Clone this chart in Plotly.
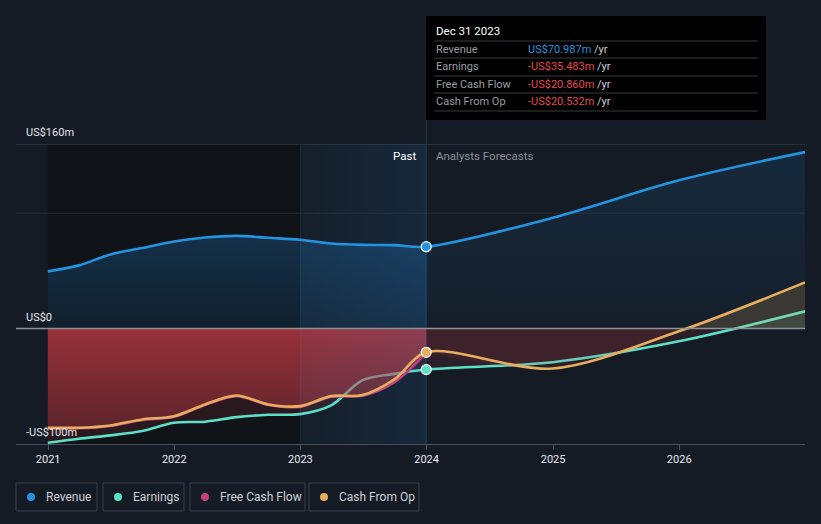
import plotly.graph_objects as go

# ---------------- data ----------------
past_dates = ["2020-12-31", "2021-03-31", "2021-06-30", "2021-09-30", "2021-12-31",
              "2022-03-31", "2022-06-30", "2022-09-30", "2022-12-31", "2023-03-31",
              "2023-06-30", "2023-09-30", "2023-12-31"]
revenue_past = [49.6, 54.8, 64.3, 69.8, 75.5, 79.0, 80.4, 78.7, 77.0, 73.8, 72.6, 72.4, 70.987]
earnings_past = [-98.9, -95.4, -92.5, -88.8, -81.6, -80.7, -76.7, -74.7, -74.1, -66.5, -44.7, -39.2, -35.483]
cfo_past = [-85.9, -85.9, -83.9, -78.7, -75.9, -65.7, -58.0, -65.7, -67.2, -58.5, -57.6, -44.0, -20.532]
fcf_past = [-86.4, -86.4, -84.4, -79.2, -76.4, -66.2, -58.5, -66.2, -67.8, -59.0, -58.2, -46.5, -20.860]

fc_dates = ["2023-12-31", "2024-12-31", "2025-12-31", "2026-12-31"]
revenue_fc = [70.987, 96.0, 128.5, 153.0]
earnings_fc = [-35.483, -29.1, -11.0, 15.0]
cfo_fc = [-20.532, -34.6, -2.3, 40.0]

year_ticks = ["2021-01-01", "2022-01-01", "2023-01-01", "2024-01-01", "2025-01-01", "2026-01-01"]
year_labels = ["2021", "2022", "2023", "2024", "2025", "2026"]
y_labels = {160: "US$160m", 0: "US$0", -100: "-US$100m"}

tooltip_date = "Dec 31 2023"
tooltip_rows = [("Revenue", "US$70.987m", "#2394df"),
                ("Earnings", "-US$35.483m", "#e5484d"),
                ("Free Cash Flow", "-US$20.860m", "#e5484d"),
                ("Cash From Op", "-US$20.532m", "#e5484d")]
legend_items = [("Revenue", "#2394df"), ("Earnings", "#5ce0c6"),
                ("Free Cash Flow", "#c2407e"), ("Cash From Op", "#e8ae5f")]

# ---------------- styling ----------------
W, H = 821, 524
L, R, T, B = 16, 16, 144, 80
BG = "#151b24"
C_REV, C_EARN, C_FCF, C_CFO = "#2394df", "#5ce0c6", "#c2407e", "#e8ae5f"
FONT = "Roboto"


def fx(p):
    return (p - L) / (W - L - R)


def fy(p):
    return (H - B - p) / (H - T - B)


fig = go.Figure()
SM = 0.9

# revenue fills
fig.add_trace(go.Scatter(x=past_dates, y=revenue_past, mode="none", fill="tozeroy",
                         line=dict(shape="spline", smoothing=SM),
                         fillgradient=dict(type="vertical", start=0, stop=80,
                                           colorscale=[[0, "rgba(33,150,243,0.10)"], [1, "rgba(33,150,243,0.22)"]]),
                         hoverinfo="skip"))
fig.add_trace(go.Scatter(x=fc_dates, y=revenue_fc, mode="none", fill="tozeroy",
                         line=dict(shape="spline", smoothing=SM),
                         fillgradient=dict(type="vertical", start=0, stop=150,
                                           colorscale=[[0, "rgba(33,150,243,0.03)"], [1, "rgba(33,150,243,0.12)"]]),
                         hoverinfo="skip"))
# earnings fills
fig.add_trace(go.Scatter(x=past_dates, y=earnings_past, mode="none", fill="tozeroy",
                         line=dict(shape="spline", smoothing=SM),
                         fillcolor="rgba(200,60,70,0.14)", hoverinfo="skip"))
fig.add_trace(go.Scatter(x=fc_dates, y=earnings_fc, mode="none", fill="tozeroy",
                         line=dict(shape="spline", smoothing=SM),
                         fillgradient=dict(type="vertical", start=-40, stop=40,
                                           colorscale=[[0, "rgba(200,60,70,0.12)"], [0.5, "rgba(200,60,70,0.12)"],
                                                       [0.5, "rgba(92,224,198,0.10)"], [1, "rgba(92,224,198,0.10)"]]),
                         hoverinfo="skip"))
# earnings line
fig.add_trace(go.Scatter(x=past_dates + fc_dates[1:], y=earnings_past + earnings_fc[1:], mode="lines",
                         line=dict(color=C_EARN, width=2.6, shape="spline", smoothing=SM), hoverinfo="skip"))
# cash from op fills
fig.add_trace(go.Scatter(x=past_dates, y=cfo_past, mode="none", fill="tozeroy",
                         line=dict(shape="spline", smoothing=SM),
                         fillgradient=dict(type="vertical", start=-90, stop=0,
                                           colorscale=[[0, "rgba(200,60,70,0.32)"], [1, "rgba(200,60,70,0.70)"]]),
                         hoverinfo="skip"))
fig.add_trace(go.Scatter(x=fc_dates, y=cfo_fc, mode="none", fill="tozeroy",
                         line=dict(shape="spline", smoothing=SM),
                         fillgradient=dict(type="vertical", start=-40, stop=40,
                                           colorscale=[[0, "rgba(200,60,70,0.12)"], [0.5, "rgba(200,60,70,0.12)"],
                                                       [0.5, "rgba(232,174,95,0.17)"], [1, "rgba(232,174,95,0.17)"]]),
                         hoverinfo="skip"))
# past-year highlight band
fig.add_trace(go.Scatter(x=["2023-01-01", "2023-12-31", "2023-12-31", "2023-01-01", "2023-01-01"],
                         y=[-100, -100, 160, 160, -100], mode="none", fill="toself",
                         fillgradient=dict(type="horizontal",
                                           colorscale=[[0, "rgba(40,150,255,0.03)"], [1, "rgba(40,150,255,0.11)"]]),
                         hoverinfo="skip"))
# lines
fig.add_trace(go.Scatter(x=past_dates, y=fcf_past, mode="lines",
                         line=dict(color=C_FCF, width=2.6, shape="spline", smoothing=SM), hoverinfo="skip"))
fig.add_trace(go.Scatter(x=past_dates + fc_dates[1:], y=cfo_past + cfo_fc[1:], mode="lines",
                         line=dict(color=C_CFO, width=2.6, shape="spline", smoothing=SM), hoverinfo="skip"))
fig.add_trace(go.Scatter(x=past_dates + fc_dates[1:], y=revenue_past + revenue_fc[1:], mode="lines",
                         line=dict(color=C_REV, width=2.6, shape="spline", smoothing=SM), hoverinfo="skip"))
# markers at latest reported point
fig.add_trace(go.Scatter(x=[past_dates[-1]] * 3, y=[revenue_past[-1], earnings_past[-1], cfo_past[-1]],
                         mode="markers",
                         marker=dict(size=10, color=[C_REV, C_EARN, C_CFO], line=dict(color="white", width=1.2)),
                         hoverinfo="skip"))

shapes = []
# dark past region
shapes.append(dict(type="rect", xref="x", yref="paper", x0="2020-12-31", x1="2023-01-01", y0=0, y1=1,
                   fillcolor="#101318", line=dict(width=0), layer="below"))
# gridlines
for v, col in [(160, "#3d434d"), (100, "#262c36")]:
    shapes.append(dict(type="line", xref="paper", yref="y", x0=0, x1=1, y0=v, y1=v,
                       line=dict(color=col, width=1), layer="below"))
shapes.append(dict(type="line", xref="paper", yref="y", x0=0, x1=1, y0=0, y1=0,
                   line=dict(color="#8e9196", width=1.5), layer="above"))
# band edge + hover line
shapes.append(dict(type="line", xref="x", yref="paper", x0="2023-01-01", x1="2023-01-01", y0=0, y1=1,
                   line=dict(color="#1c2a38", width=1), layer="below"))
shapes.append(dict(type="line", xref="x", yref="paper", x0="2023-12-31", x1="2023-12-31", y0=0, y1=fy(16),
                   line=dict(color="#1d3b55", width=1), layer="below"))
# tooltip box
shapes.append(dict(type="rect", xref="paper", yref="paper", x0=fx(426), x1=fx(766), y0=fy(120), y1=fy(16),
                   fillcolor="#000000", line=dict(width=0), layer="above"))
for yy in [41, 58, 76, 93, 111]:
    shapes.append(dict(type="line", xref="paper", yref="paper", x0=fx(434), x1=fx(758), y0=fy(yy), y1=fy(yy),
                       line=dict(color="#3a3b3d", width=1), layer="above"))

annotations = []
# y labels
for v, txt in y_labels.items():
    ypx = 329 - v * 1.15625 - 12
    annotations.append(dict(text=txt, xref="paper", yref="paper", x=fx(24), y=fy(ypx),
                            xanchor="left", yanchor="middle", showarrow=False,
                            font=dict(family=FONT, size=11, color="#e4e6ea")))
annotations.append(dict(text="Past", xref="paper", yref="paper", x=fx(418), y=fy(156), xanchor="right",
                        yanchor="middle", showarrow=False, font=dict(family=FONT, size=11.5, color="#ffffff")))
annotations.append(dict(text="Analysts Forecasts", xref="paper", yref="paper", x=fx(434), y=fy(156),
                        xanchor="left", yanchor="middle", showarrow=False,
                        font=dict(family=FONT, size=11.5, color="#8b9098")))
# tooltip text
annotations.append(dict(text=tooltip_date, xref="paper", yref="paper", x=fx(434), y=fy(31), xanchor="left",
                        yanchor="middle", showarrow=False, font=dict(family=FONT, size=11.5, color="#ffffff")))
for i, (lab, val, col) in enumerate(tooltip_rows):
    ypx = 49.5 + i * 17.4
    annotations.append(dict(text=lab, xref="paper", yref="paper", x=fx(434), y=fy(ypx), xanchor="left",
                            yanchor="middle", showarrow=False, font=dict(family=FONT, size=11, color="#9a9da3")))
    annotations.append(dict(text=f"<span style='color:{col}'>{val}</span> /yr", xref="paper", yref="paper",
                            x=fx(526), y=fy(ypx), xanchor="left", yanchor="middle", showarrow=False,
                            font=dict(family=FONT, size=11, color="#d0d2d6")))
# legend
boxes = [(16, 97), (103, 184), (190, 305), (309, 419)]
for (lab, col), (x0, x1) in zip(legend_items, boxes):
    shapes.append(dict(type="rect", xref="paper", yref="paper", x0=fx(x0), x1=fx(x1), y0=fy(511), y1=fy(483),
                       line=dict(color="#3b414c", width=1), fillcolor="rgba(0,0,0,0)", layer="above"))
    cx, cy = x0 + 15, 497
    shapes.append(dict(type="circle", xref="paper", yref="paper", x0=fx(cx - 4), x1=fx(cx + 4),
                       y0=fy(cy + 4), y1=fy(cy - 4), fillcolor=col, line=dict(width=0), layer="above"))
    annotations.append(dict(text=lab, xref="paper", yref="paper", x=fx(x0 + 28), y=fy(497), xanchor="left",
                            yanchor="middle", showarrow=False, font=dict(family=FONT, size=12, color="#cfd2d7")))

fig.update_layout(
    width=W, height=H, autosize=False,
    margin=dict(l=L, r=R, t=T, b=B),
    paper_bgcolor=BG, plot_bgcolor=BG,
    showlegend=False,
    shapes=shapes, annotations=annotations,
    xaxis=dict(type="date", range=["2020-09-30", "2026-12-31"], tickvals=year_ticks, ticktext=year_labels,
               showgrid=False, zeroline=False, showline=True, linecolor="#4b505a", linewidth=1,
               ticks="outside", ticklen=5, tickcolor="#4b505a",
               tickfont=dict(family=FONT, size=11, color="#e8eaee")),
    yaxis=dict(range=[-100, 160], showgrid=False, zeroline=False, showticklabels=False, fixedrange=True),
    font=dict(family=FONT),
)

fig.write_html("out.html", config={"displayModeBar": False},
               post_script="document.body.style.margin='0';document.body.style.background='" + BG + "';")
